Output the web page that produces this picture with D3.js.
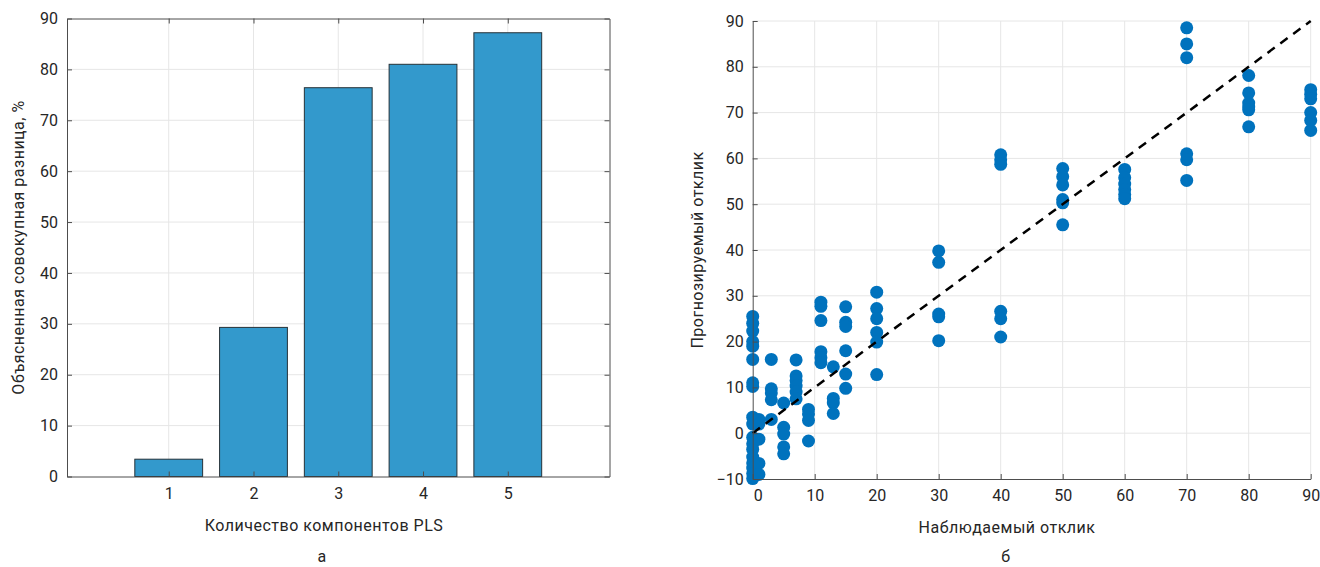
<!DOCTYPE html>
<html>
<head>
<meta charset="utf-8">
<script src="https://cdn.jsdelivr.net/npm/d3@7"></script>
<style>
  body { margin: 0; background: #fff; }
  svg text { font-family: Roboto, "Noto Sans", sans-serif; fill: #262626; }
</style>
</head>
<body>
<svg id="chart" width="1320" height="567"></svg>
<script>
// Left panel: explained cumulative variance
const components = [1, 2, 3, 4, 5];
const explained = [3.4, 29.3, 76.4, 81.0, 87.2];
const barXTicks = [1, 2, 3, 4, 5];
const barYTicks = [0, 10, 20, 30, 40, 50, 60, 70, 80, 90];

// Right panel: observed vs predicted response
const observed = [
  0, 0, 0, 0, 0, 0, 0, 0, 0, 0, 0, 0, 0, 0, 0, 0, 0, 0,
  1, 1, 1, 1, 1,
  3, 3, 3, 3, 3,
  5, 5, 5, 5, 5,
  7, 7, 7, 7, 7, 7,
  9, 9, 9, 9,
  11, 11, 11, 11, 11, 11,
  13, 13, 13, 13,
  15, 15, 15, 15, 15, 15,
  20, 20, 20, 20, 20, 20,
  30, 30, 30, 30, 30,
  40, 40, 40, 40, 40, 40,
  50, 50, 50, 50, 50, 50,
  60, 60, 60, 60, 60, 60,
  70, 70, 70, 70, 70, 70,
  80, 80, 80, 80, 80, 80,
  90, 90, 90, 90, 90, 90
];
const predicted = [
  25.5, 24, 22.3, 20, 19, 16.1, 11, 10.2, 3.5, 2, -0.9, -2.3, -3.5, -5.2, -6.5, -7.6, -8.8, -9.9,
  3, 2, -1.3, -6.6, -9,
  16.1, 9.7, 8.8, 7.3, 3,
  6.6, 1.3, -0.2, -3, -4.5,
  16, 12.5, 11.5, 10.3, 9, 7.5,
  5.2, 4.2, 2.8, -1.7,
  28.6, 27.7, 24.6, 17.8, 16.5, 15.4,
  14.5, 7.6, 6.6, 4.3,
  27.6, 24.2, 23.3, 18, 12.9, 9.8,
  30.8, 27.2, 25, 22, 19.9, 12.8,
  39.8, 37.3, 26, 25.4, 20.2,
  60.8, 59.7, 58.7, 26.6, 25, 21,
  57.8, 56, 54.2, 51, 50.3, 45.5,
  57.6, 55.8, 54.4, 53.2, 52.1, 51.2,
  88.5, 85, 82, 61, 59.7, 55.2,
  78.1, 74.3, 72.1, 71.2, 70.6, 66.9,
  75, 74, 73, 70, 68.3, 66.1
];
const scatterTicks = [0, 10, 20, 30, 40, 50, 60, 70, 80, 90];
const scatterYTicks = [-10, 0, 10, 20, 30, 40, 50, 60, 70, 80, 90];

const svg = d3.select("#chart");
const gridColor = "#e6e6e6";
const axisColor = "#4d4d4d";
const fontSize = "16px";

// ---------- left: bar chart ----------
const L = { left: 67, right: 609.5, top: 18.5, bottom: 476.5 };
const xb = d3.scaleLinear().domain([-0.2, 6.2]).range([L.left, L.right]);
const yb = d3.scaleLinear().domain([0, 90]).range([L.bottom, L.top]);
const left = svg.append("g");

// grid
left.selectAll(".hg").data(barYTicks.slice(1, -1)).enter().append("line")
  .attr("x1", L.left).attr("x2", L.right)
  .attr("y1", (d) => yb(d)).attr("y2", (d) => yb(d))
  .attr("stroke", gridColor);
left.selectAll(".vg").data(barXTicks).enter().append("line")
  .attr("y1", L.top).attr("y2", L.bottom)
  .attr("x1", (d) => xb(d)).attr("x2", (d) => xb(d))
  .attr("stroke", gridColor);

// bars
const bw = xb(0.8) - xb(0);
left.selectAll(".bar").data(components).enter().append("rect")
  .attr("x", (d) => xb(d) - bw / 2)
  .attr("y", (d, i) => yb(explained[i]))
  .attr("width", bw)
  .attr("height", (d, i) => yb(0) - yb(explained[i]))
  .attr("fill", "#3399cc")
  .attr("stroke", "#263238")
  .attr("stroke-width", 1);

// axes (box on, ticks inward)
left.append("g").attr("transform", `translate(0,${L.bottom})`)
  .call(d3.axisBottom(xb).tickValues(barXTicks).tickFormat(d3.format("d"))
    .tickSizeInner(-5).tickSizeOuter(0).tickPadding(11));
left.append("g").attr("transform", `translate(${L.left},0)`)
  .call(d3.axisLeft(yb).tickValues(barYTicks).tickSizeInner(-5).tickSizeOuter(0).tickPadding(9));
left.append("g").attr("transform", `translate(0,${L.top})`)
  .call(d3.axisTop(xb).tickValues(barXTicks).tickSizeInner(-5).tickSizeOuter(0).tickFormat(""));
left.append("g").attr("transform", `translate(${L.right},0)`)
  .call(d3.axisRight(yb).tickValues(barYTicks).tickSizeInner(-5).tickSizeOuter(0).tickFormat(""));

left.append("text")
  .attr("class", "label")
  .attr("x", 324).attr("y", 531)
  .attr("text-anchor", "middle")
  .text("Количество компонентов PLS");
left.append("text")
  .attr("class", "label")
  .attr("transform", `translate(24,${(L.top + L.bottom) / 2}) rotate(-90)`)
  .attr("text-anchor", "middle")
  .text("Объясненная совокупная разница, %");
left.append("text")
  .attr("class", "label")
  .attr("x", 322).attr("y", 562)
  .attr("text-anchor", "middle")
  .text("а");

// ---------- right: scatter ----------
const R = { left: 752.7, right: 1310.7, top: 21, bottom: 479 };
const xs = d3.scaleLinear().domain([0, 90]).range([R.left, R.right]);
const ys = d3.scaleLinear().domain([-10, 90]).range([R.bottom, R.top]);
const right = svg.append("g");

right.selectAll(".hg").data(scatterYTicks.slice(1)).enter().append("line")
  .attr("x1", R.left).attr("x2", R.right)
  .attr("y1", (d) => ys(d)).attr("y2", (d) => ys(d))
  .attr("stroke", gridColor);
right.selectAll(".vg").data(scatterTicks.slice(1)).enter().append("line")
  .attr("y1", R.top).attr("y2", R.bottom)
  .attr("x1", (d) => xs(d)).attr("x2", (d) => xs(d))
  .attr("stroke", gridColor);

right.selectAll(".dot").data(observed).enter().append("circle")
  .attr("cx", (d) => xs(d))
  .attr("cy", (d, i) => ys(predicted[i]))
  .attr("r", 6.5)
  .attr("fill", "#0072bd");

// reference line y = x
right.append("line")
  .attr("x1", xs(0)).attr("y1", ys(0))
  .attr("x2", xs(90)).attr("y2", ys(90))
  .attr("stroke", "#000").attr("stroke-width", 2.5)
  .attr("stroke-dasharray", "9,7");

const xAx = right.append("g").attr("transform", `translate(0,${R.bottom})`)
  .call(d3.axisBottom(xs).tickValues(scatterTicks).tickSizeInner(-5).tickSizeOuter(0).tickPadding(11));
xAx.selectAll(".tick text").filter((d) => d === 0).attr("dx", 5);
right.append("g").attr("transform", `translate(${R.left},0)`)
  .call(d3.axisLeft(ys).tickValues(scatterYTicks).tickSizeInner(-5).tickSizeOuter(0).tickPadding(9)
    .tickFormat((d) => (d < 0 ? "\u2212" + Math.abs(d) : d)));

right.append("text")
  .attr("class", "label")
  .attr("x", 1007).attr("y", 533)
  .attr("text-anchor", "middle")
  .text("Наблюдаемый отклик");
right.append("text")
  .attr("class", "label")
  .attr("transform", `translate(703,${(R.top + R.bottom) / 2}) rotate(-90)`)
  .attr("text-anchor", "middle")
  .text("Прогнозируемый отклик");
right.append("text")
  .attr("class", "label")
  .attr("x", 1006).attr("y", 562)
  .attr("text-anchor", "middle")
  .text("б");

// text + axis styling
svg.selectAll(".label").style("font-size", fontSize).style("letter-spacing", "0.5px");
svg.selectAll(".domain").attr("stroke", axisColor);
svg.selectAll(".tick line").attr("stroke", axisColor);
svg.selectAll(".tick text").style("font-size", fontSize)
  .style("font-family", "Roboto, sans-serif").attr("fill", "#262626");
</script>
</body>
</html>
